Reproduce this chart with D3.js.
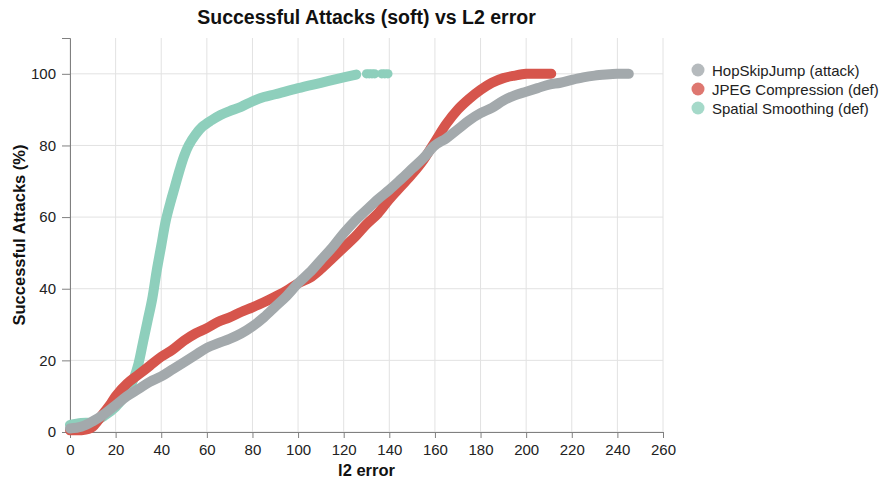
<!DOCTYPE html>
<html><head><meta charset="utf-8">
<script src="https://cdn.jsdelivr.net/npm/d3@7"></script>
<style>body{margin:0;background:#fff}svg{display:block}text{font-family:"Liberation Sans",Arial,sans-serif}</style>
</head><body><svg id="c" width="886" height="480"></svg>
<script>
const seriesNames = ["HopSkipJump (attack)", "JPEG Compression (def)", "Spatial Smoothing (def)"];
const seriesColors = ["#a3a9ac", "#d6554c", "#8ecfbc"];
const xTicks = [0,20,40,60,80,100,120,140,160,180,200,220,240,260];
const yTicks = [0,20,40,60,80,100];

const hopX = [0,5,10,15,20,25,30,35,40,45,50,55,60,65,70,75,80,85,90,95,100,105,110,115,120,125,130,135,140,145,150,155,160,165,170,175,180,185,190,195,200,205,210,215,220,225,230,235,240,245];
const hopY = [1,1.5,3,5,7.5,10,12,14,15.5,17.5,19.5,21.5,23.5,24.8,26,27.5,29.5,32,35,38,41.5,44.5,48,51.5,55.5,59,62,65,67.6,70.5,73.5,76.5,80,82,84.5,87,89,90.5,92.5,94,95,96,97,97.5,98.3,99,99.5,99.8,100,100];

const jpegX = [0,5,8,10,12,15,18,20,25,30,35,40,45,50,55,60,65,70,75,80,85,90,95,100,105,110,115,120,125,130,135,140,145,150,155,160,165,170,175,180,185,190,195,200,205,211];
const jpegY = [0.5,0.5,0.8,1.5,3,5.5,8,10,13.5,16,18.5,21,23,25.5,27.5,29,30.8,32,33.5,34.8,36.2,37.8,39.5,41.5,43,45.5,48.5,51.5,54.5,58,61,65,68.5,72,76,81,86,90,93,95.5,97.5,98.8,99.5,100,100,100];

const spatX = [0,5,10,15,20,25,28,30,32,34,36,38,40,42,44,46,48,50,52,55,58,62,66,70,75,80,85,90,100,110,120,125.5];
const spatY = [2,2.5,2.8,4.5,7,11,15,19,25,31,37,45,52,59,64,68.5,73,77,80,83,85.2,87,88.5,89.6,90.8,92.3,93.5,94.3,96,97.5,99,99.8];
const spatTailX = [130,131.2,132.4,133.6,136.7,138,139.4];
const spatTailY = [100,100,100,100,100,100,100];

const svg = d3.select("#c");
const m = {l:70, r:223, t:38, b:48};
const W = 886 - m.l - m.r, H = 480 - m.t - m.b;
const g = svg.append("g").attr("transform", `translate(${m.l},${m.t})`);
const x = d3.scaleLinear().domain([0,260]).range([0,W]);
const y = d3.scaleLinear().domain([0,110]).range([H,0]);

// grid
g.append("g").selectAll("line").data(xTicks).join("line")
  .attr("x1", d=>x(d)).attr("x2", d=>x(d)).attr("y1", 0).attr("y2", H)
  .attr("stroke", "#e2e2e2").attr("stroke-width", 1);
g.append("g").selectAll("line").data(yTicks).join("line")
  .attr("x1", 0).attr("x2", W).attr("y1", d=>y(d)).attr("y2", d=>y(d))
  .attr("stroke", "#e2e2e2").attr("stroke-width", 1);

// axes
const xa = g.append("g").attr("transform", `translate(0,${H})`)
  .call(d3.axisBottom(x).tickValues(xTicks).tickSize(6).tickPadding(6));
const ya = g.append("g").call(d3.axisLeft(y).tickValues(yTicks).tickSize(8).tickPadding(6));
[xa, ya].forEach(a => {
  a.select(".domain").attr("stroke", "#808080");
  a.selectAll(".tick line").attr("stroke", "#808080");
  a.selectAll(".tick text").attr("fill", "#222").style("font-size", "15px");
});

// series
const line = d3.line().x(d=>x(d[0])).y(d=>y(d[1])).curve(d3.curveCatmullRom.alpha(0.5));
const zip = (a,b) => a.map((v,i)=>[v,b[i]]);
const series = [
  {pts: zip(spatX, spatY), c: seriesColors[2]},
  {pts: zip(jpegX, jpegY), c: seriesColors[1]},
  {pts: zip(hopX, hopY), c: seriesColors[0]}
];
series.forEach((s, i) => {
  g.append("path").attr("d", line(s.pts)).attr("fill", "none")
    .attr("stroke", s.c).attr("stroke-width", 10)
    .attr("stroke-linecap", "round").attr("stroke-linejoin", "round");
  if (i === 0) {
    g.append("g").selectAll("circle").data(zip(spatTailX, spatTailY)).join("circle")
      .attr("cx", d=>x(d[0])).attr("cy", d=>y(d[1])).attr("r", 4.6).attr("fill", s.c);
  }
});

// title
svg.append("text").attr("x", m.l + W/2).attr("y", 24).attr("text-anchor", "middle")
  .style("font-size", "19.5px").style("font-weight", "bold").attr("fill", "#111")
  .text("Successful Attacks (soft) vs L2 error");
svg.append("text").attr("x", m.l + W/2).attr("y", 476).attr("text-anchor", "middle")
  .style("font-size", "16.5px").style("font-weight", "bold").attr("fill", "#111").text("l2 error");
svg.append("text").attr("transform", `translate(25,${m.t + H/2}) rotate(-90)`).attr("text-anchor", "middle")
  .style("font-size", "16.5px").style("font-weight", "bold").attr("fill", "#111").text("Successful Attacks (%)");

// legend
const lg = svg.append("g").attr("transform", "translate(698,70)");
seriesNames.forEach((n, i) => {
  lg.append("circle").attr("cx", 0).attr("cy", i*19).attr("r", 6.5).attr("fill", seriesColors[i]).attr("opacity", 0.8);
  lg.append("text").attr("x", 14).attr("y", i*19 + 5.5).style("font-size", "15px").attr("fill", "#222").text(n);
});
</script></body></html>
